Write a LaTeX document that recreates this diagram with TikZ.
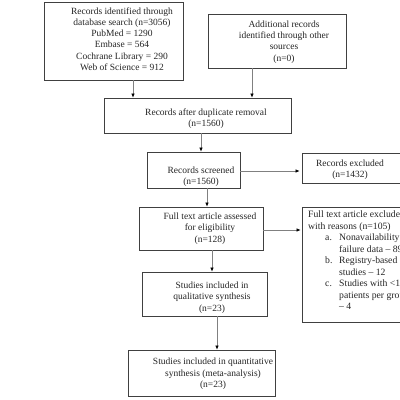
\documentclass[tikz,border=0pt]{standalone}
\usepackage{fontspec}
\setmainfont{Liberation Serif}
\usetikzlibrary{arrows.meta}
\begin{document}
\begin{tikzpicture}[x=1pt,y=-1pt,
  box/.style={draw=black!75,line width=0.8pt,rectangle,inner sep=0pt},
  txt/.style={inner sep=0pt,align=center,font=\fontsize{9.5}{11.3}\selectfont,text=black!85},
  ltxt/.style={inner sep=0pt,align=left,font=\fontsize{9.7}{11.5}\selectfont,text=black!85},
  arr/.style={draw=black!50,line width=0.6pt,-{Latex[length=4pt,width=3.5pt,black]}}]
\fill[white] (0,0) rectangle (400,400);
\useasboundingbox (0,0) rectangle (400,400);
% boxes
\node[box,minimum width=139pt,minimum height=78pt] (b1) at (113.5,41) {};
\node[box,minimum width=138pt,minimum height=54pt] (b2) at (277,41) {};
\node[box,minimum width=187pt,minimum height=35pt] (b3) at (197.5,115.5) {};
\node[box,minimum width=93pt,minimum height=36pt] (b4) at (193.5,170) {};
\node[box,minimum width=120pt,minimum height=30pt] (b5) at (362,168) {};
\node[box,minimum width=124pt,minimum height=43pt] (b6) at (201,228.5) {};
\node[box,minimum width=120pt,minimum height=115pt] (b7) at (362,264.5) {};
\node[box,minimum width=125pt,minimum height=44pt] (b8) at (204.5,294) {};
\node[box,minimum width=147pt,minimum height=46pt] (b9) at (201.5,373) {};
% texts
\node[txt] (t1) at (122,39) {Records identified through\\database search (n=3056)\\PubMed = 1290\\Embase = 564\\Cochrane Library = 290\\Web of Science = 912};
\node[txt] (t2) at (284,42) {Additional records\\identified through other\\sources\\(n=0)};
\node[txt] (t3) at (206,118.5) {Records after duplicate removal\\(n=1560)};
\node[txt] (t4) at (201,177) {Records screened\\(n=1560)};
\node[txt] (t5) at (350,170) {Records excluded\\(n=1432)};
\node[txt] (t6) at (210,228.5) {Full text article assessed\\for eligibility\\(n=128)};
\node[txt] (t8) at (212,297.5) {Studies included in\\qualitative synthesis\\(n=23)};
\node[txt] (t9) at (213,374) {Studies included in quantitative\\synthesis (meta-analysis)\\(n=23)};
\node[ltxt,anchor=north west] (t7) at (308,211) {Full text article excluded\\with reasons (n=105)\\
\hspace*{17pt}\makebox[14pt][l]{a.}Nonavailability of\\
\hspace*{31pt}failure data -- 89\\
\hspace*{17pt}\makebox[14pt][l]{b.}Registry-based\\
\hspace*{31pt}studies -- 12\\
\hspace*{17pt}\makebox[14pt][l]{c.}Studies with <10\\
\hspace*{31pt}patients per group\\
\hspace*{31pt}-- 4};
% connectors
\draw[arr] ([xshift=19.5pt]b1.south) -- ([xshift=19.5pt]b1.south |- b3.north);
\draw[arr] ([xshift=-25pt]b2.south) -- ([xshift=-25pt]b2.south |- b3.north);
\draw[arr] ([xshift=3.5pt]b3.south) -- ([xshift=3.5pt]b3.south |- b4.north);
\draw[arr,shorten >=2pt] ([yshift=-1pt]b4.east) -- ([yshift=-1pt]b4.east -| b5.west);
\draw[arr] ([xshift=13.5pt]b4.south) -- ([xshift=13.5pt]b4.south |- b6.north);
\draw[arr,shorten >=1pt] ([yshift=-1.5pt]b6.east) -- ([yshift=-1.5pt]b6.east -| b7.west);
\draw[arr] ([xshift=11pt]b6.south) -- ([xshift=11pt]b6.south |- b8.north);
\draw[arr] ([xshift=12.5pt]b8.south) -- ([xshift=12.5pt]b8.south |- b9.north);
\end{tikzpicture}
\end{document}
